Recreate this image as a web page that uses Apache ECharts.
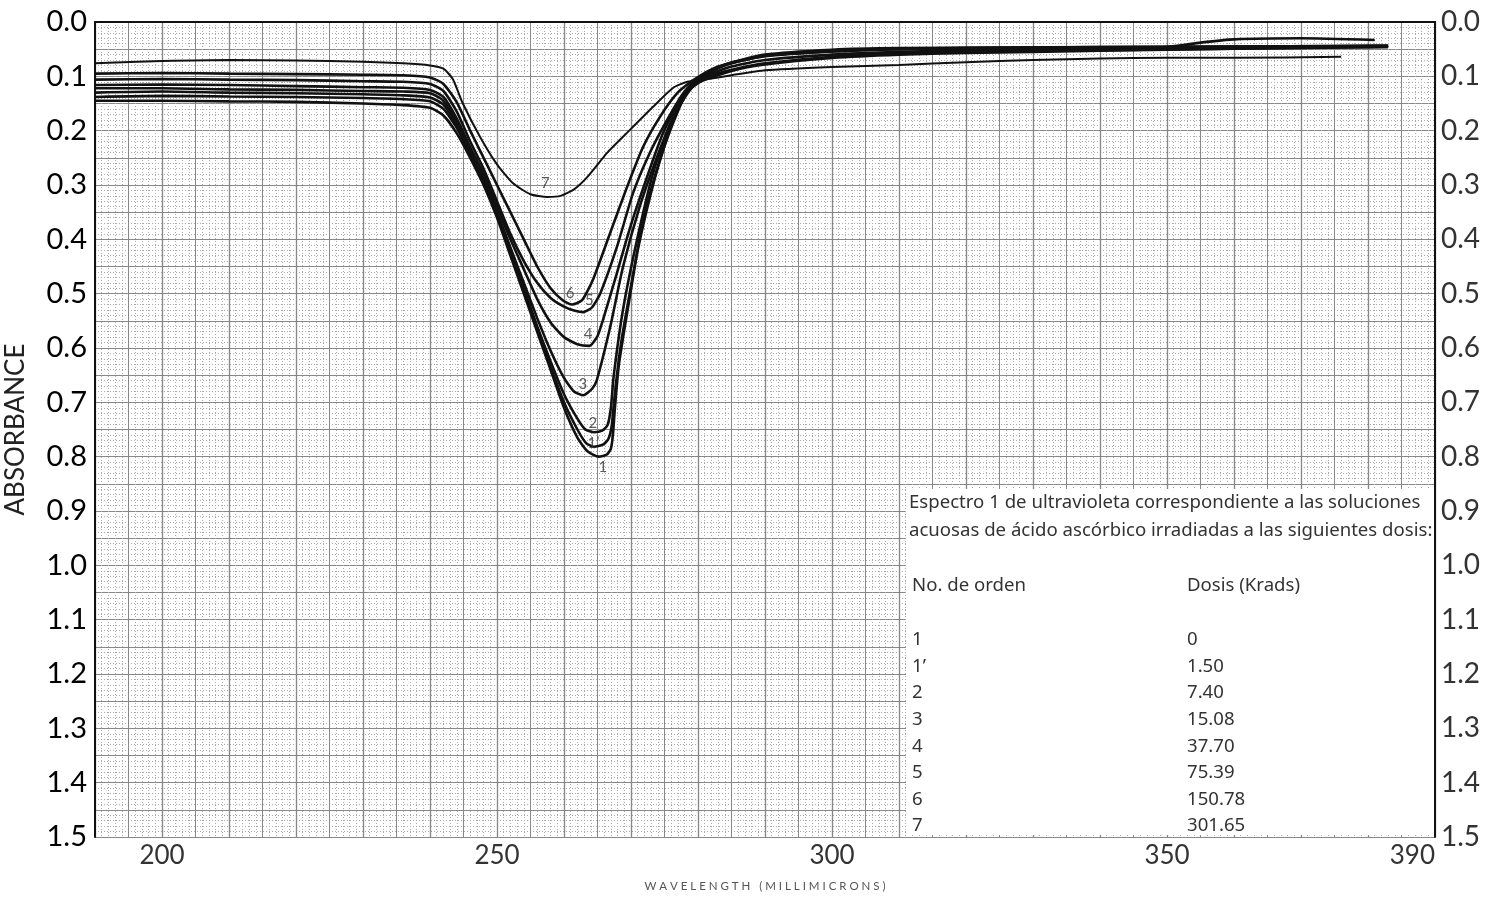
<!DOCTYPE html>
<html lang="es" style="height: 100%">
<head>
  <meta charset="utf-8">
  <style>
    body { margin: 0; background: #fff; }
    #container { width: 1488px; height: 897px; }
  </style>
</head>
<body>
  <div id="container"></div>
  <script src="https://cdn.jsdelivr.net/npm/echarts@6/dist/echarts.min.js"></script>
  <script>
    // curves: [wavelength nm, absorbance]
    var curve1 = [[190,0.145],[200,0.145],[210,0.146],[220,0.147],[230,0.150],[236,0.153],[240,0.158],[242,0.172],[244,0.205],[246,0.25],[248,0.30],[250,0.36],[252,0.43],[254,0.50],[256,0.57],[258,0.64],[260,0.71],[262,0.765],[263.5,0.79],[265.2,0.80],[266.4,0.796],[267,0.785],[267.3,0.76],[267.6,0.71],[268.2,0.63],[269.9,0.50],[271.8,0.364],[274.3,0.254],[276.9,0.167],[278.8,0.12],[281,0.095],[285,0.075],[290,0.062],[300,0.054],[310,0.050],[330,0.048],[350,0.046],[355,0.038],[360,0.032],[370,0.030],[381,0.033]];
    var curve1b = [[190,0.138],[200,0.136],[210,0.137],[220,0.138],[230,0.140],[236,0.142],[240,0.146],[242,0.160],[244,0.195],[246,0.245],[248,0.295],[250,0.355],[252,0.425],[254,0.495],[256,0.565],[258,0.635],[260,0.70],[262,0.75],[263.3,0.775],[264.5,0.782],[265.8,0.778],[266.6,0.768],[267.1,0.745],[267.6,0.683],[268.3,0.61],[269.1,0.548],[271,0.42],[273.5,0.29],[276,0.19],[278.5,0.125],[281,0.100],[285,0.082],[290,0.070],[300,0.060],[310,0.055],[320,0.052],[340,0.049],[360,0.046],[383,0.044]];
    var curve2 = [[190,0.130],[200,0.128],[210,0.130],[220,0.131],[230,0.133],[236,0.135],[240,0.139],[242,0.152],[244,0.19],[246,0.24],[248,0.29],[250,0.35],[252,0.42],[254,0.49],[256,0.56],[258,0.625],[260,0.685],[262,0.73],[263.2,0.75],[264.5,0.755],[265.7,0.752],[266.5,0.742],[267,0.71],[267.4,0.653],[268.8,0.53],[270.9,0.401],[273.3,0.278],[275.8,0.193],[277.8,0.138],[280,0.112],[285,0.09],[290,0.078],[300,0.066],[310,0.060],[320,0.057],[340,0.053],[360,0.049],[383,0.046]];
    var curve3 = [[190,0.122],[200,0.122],[210,0.124],[220,0.125],[230,0.127],[236,0.128],[240,0.131],[242,0.145],[244,0.185],[246,0.238],[248,0.29],[250,0.35],[252,0.415],[254,0.48],[256,0.545],[258,0.605],[260,0.655],[261.5,0.68],[262.9,0.687],[264.2,0.675],[264.9,0.659],[266.9,0.561],[268.8,0.451],[271.3,0.34],[273.9,0.248],[276.3,0.175],[279,0.122],[282,0.098],[286,0.085],[290,0.076],[300,0.064],[310,0.058],[320,0.055],[340,0.052],[360,0.049],[383,0.046]];
    var curve4 = [[190,0.116],[200,0.115],[210,0.116],[220,0.118],[230,0.120],[236,0.121],[240,0.125],[242,0.138],[244,0.178],[246,0.23],[248,0.28],[250,0.34],[252,0.40],[254,0.455],[256,0.51],[258,0.553],[260,0.58],[262,0.593],[263.8,0.596],[265,0.578],[265.8,0.549],[267.9,0.462],[269.9,0.377],[272.4,0.285],[274.8,0.204],[277.3,0.144],[280,0.105],[284,0.080],[290,0.062],[300,0.053],[310,0.049],[340,0.046],[383,0.044]];
    var curve5 = [[190,0.106],[200,0.105],[210,0.106],[220,0.107],[230,0.109],[236,0.110],[240,0.114],[242,0.127],[244,0.165],[246,0.22],[248,0.27],[250,0.33],[252,0.39],[254,0.44],[256,0.48],[258,0.508],[260,0.524],[261.5,0.531],[262.9,0.534],[264.2,0.525],[265.4,0.50],[267.9,0.414],[270.3,0.315],[272.8,0.241],[275.4,0.18],[277.8,0.131],[280,0.103],[284,0.078],[290,0.060],[300,0.051],[310,0.048],[340,0.046],[383,0.044]];
    var curve6 = [[190,0.095],[200,0.094],[210,0.095],[220,0.096],[230,0.097],[236,0.098],[240,0.102],[242,0.114],[244,0.148],[246,0.20],[248,0.25],[250,0.30],[252,0.35],[254,0.40],[256,0.45],[258,0.49],[259.8,0.512],[261.2,0.52],[262.7,0.512],[264.3,0.475],[266.9,0.388],[269.4,0.304],[271.8,0.23],[274.3,0.175],[276.9,0.131],[279.3,0.107],[283,0.082],[290,0.063],[300,0.054],[310,0.050],[320,0.048],[340,0.047],[360,0.046],[383,0.045]];
    var curve7 = [[190,0.076],[200,0.072],[210,0.070],[220,0.071],[230,0.073],[236,0.076],[240,0.080],[242,0.086],[243.4,0.105],[244.9,0.150],[247.5,0.212],[250,0.262],[252.4,0.297],[255,0.317],[257.5,0.322],[259.5,0.320],[261.5,0.308],[263.5,0.285],[266.5,0.24],[269.4,0.204],[273.3,0.156],[276.3,0.121],[278.4,0.110],[281,0.106],[285,0.098],[290,0.089],[300,0.083],[310,0.079],[320,0.074],[330,0.07],[340,0.067],[350,0.066],[360,0.066],[376,0.064]];

    var curveNames = ['1', '1\u2019', '2', '3', '4', '5', '6', '7'];
    var curves = [curve1, curve1b, curve2, curve3, curve4, curve5, curve6, curve7];
    // where the number is written next to each trough
    var labelPoints = [[265.8,0.819],[264.4,0.776],[264.3,0.738],[262.8,0.666],[263.6,0.574],[263.8,0.512],[260.9,0.499],[257.2,0.296]];

    var captionLines = [
      'Espectro 1 de ultravioleta correspondiente a las soluciones',
      'acuosas de \u00e1cido asc\u00f3rbico irradiadas a las siguientes dosis:'
    ];
    var orderHeader = 'No. de orden';
    var doseHeader = 'Dosis (Krads)';
    var doses = ['0', '1.50', '7.40', '15.08', '37.70', '75.39', '150.78', '301.65'];

    var font = 'Lato, "Noto Sans", sans-serif';
    var boxFont = '18.6px "Noto Sans", sans-serif';

    var series = curves.map(function (c, i) {
      return {
        name: curveNames[i],
        type: 'line',
        data: c,
        showSymbol: false,
        smooth: 0.2,
        lineStyle: { color: '#111', width: i === 7 ? 2 : 2.6 },
        z: 5
      };
    });
    series.push({
      type: 'scatter',
      data: labelPoints.map(function (p, i) { return { value: p, name: curveNames[i] }; }),
      symbolSize: 2,
      itemStyle: { color: 'transparent' },
      label: {
        show: true,
        position: 'inside',
        formatter: function (p) { return p.name; },
        color: '#333',
        fontSize: 15,
        fontFamily: font
      },
      z: 6
    });

    // legend box in the lower right
    var graphics = [{
      type: 'rect',
      shape: { x: 906, y: 489, width: 528, height: 346 },
      style: { fill: '#fff' },
      z: 10
    }];
    captionLines.forEach(function (t, i) {
      graphics.push({ type: 'text', x: 909, y: 503 + i * 28, z: 11,
        style: { text: t, fill: '#333', font: boxFont, verticalAlign: 'middle' } });
    });
    graphics.push({ type: 'text', x: 912, y: 586, z: 11,
      style: { text: orderHeader, fill: '#333', font: boxFont, verticalAlign: 'middle' } });
    graphics.push({ type: 'text', x: 1187, y: 586, z: 11,
      style: { text: doseHeader, fill: '#333', font: boxFont, verticalAlign: 'middle' } });
    doses.forEach(function (d, i) {
      var y = 640 + i * 26.6;
      graphics.push({ type: 'text', x: 912, y: y, z: 11,
        style: { text: curveNames[i], fill: '#333', font: boxFont, verticalAlign: 'middle' } });
      graphics.push({ type: 'text', x: 1187, y: y, z: 11,
        style: { text: d, fill: '#333', font: boxFont, verticalAlign: 'middle' } });
    });

    var frame = { show: true, lineStyle: { color: '#111', width: 2 } };

    var chart = echarts.init(document.getElementById('container'), null, { renderer: 'canvas' });
    chart.setOption({
      animation: false,
      backgroundColor: '#fff',
      grid: { left: 95, right: 53, top: 22, bottom: 60, containLabel: false, outerBoundsMode: 'none' },
      xAxis: [{
        type: 'value', min: 190, max: 390, interval: 10, position: 'bottom',
        axisLine: frame, axisTick: { show: false },
        axisLabel: {
          formatter: function (v) { return (v % 50 === 0 || v === 390) ? String(v) : ''; },
          fontSize: 26, color: '#333', fontFamily: font, margin: 6,
          alignMaxLabel: 'right'
        },
        splitLine: { show: true, lineStyle: { color: '#333', width: 1.2 } },
        minorTick: { show: false, splitNumber: 10 },
        minorSplitLine: { show: true, lineStyle: { color: '#aaa', width: 1, type: [1, 2] } },
        name: 'W A V E L E N G T H   ( M I L L I M I C R O N S )', nameLocation: 'middle', nameGap: 43,
        nameTextStyle: { fontSize: 11.5, color: '#555', fontFamily: font }
      }, {
        type: 'value', min: 190, max: 390, interval: 5, position: 'top',
        axisLine: frame, axisTick: { show: false }, axisLabel: { show: false },
        splitLine: { show: true, lineStyle: { color: '#888', width: 1 } }
      }],
      yAxis: [{
        type: 'value', inverse: true, min: 0, max: 1.5, interval: 0.1, position: 'left',
        axisLine: frame, axisTick: { show: false },
        axisLabel: {
          formatter: function (v) { return v.toFixed(1); },
          fontSize: 29, color: '#000', fontFamily: font, margin: 8
        },
        splitLine: { show: true, lineStyle: { color: '#333', width: 1.2 } },
        minorTick: { show: false, splitNumber: 10 },
        minorSplitLine: { show: true, lineStyle: { color: '#aaa', width: 1, type: [1, 2] } },
        name: 'ABSORBANCE', nameLocation: 'middle', nameGap: 66,
        nameTextStyle: { fontSize: 26, color: '#222', fontFamily: font }
      }, {
        type: 'value', inverse: true, min: 0, max: 1.5, interval: 0.1, position: 'right',
        axisLine: frame, axisTick: { show: false },
        axisLabel: {
          formatter: function (v) { return v.toFixed(1); },
          fontSize: 28, color: '#333', fontFamily: font, margin: 6
        },
        splitLine: { show: false }
      }, {
        type: 'value', inverse: true, min: 0, max: 1.5, interval: 0.05, position: 'right',
        axisLine: { show: false }, axisTick: { show: false }, axisLabel: { show: false },
        splitLine: { show: true, lineStyle: { color: '#888', width: 1 } }
      }],
      series: series,
      graphic: graphics
    });
    window.addEventListener('resize', chart.resize);
  </script>
</body>
</html>
